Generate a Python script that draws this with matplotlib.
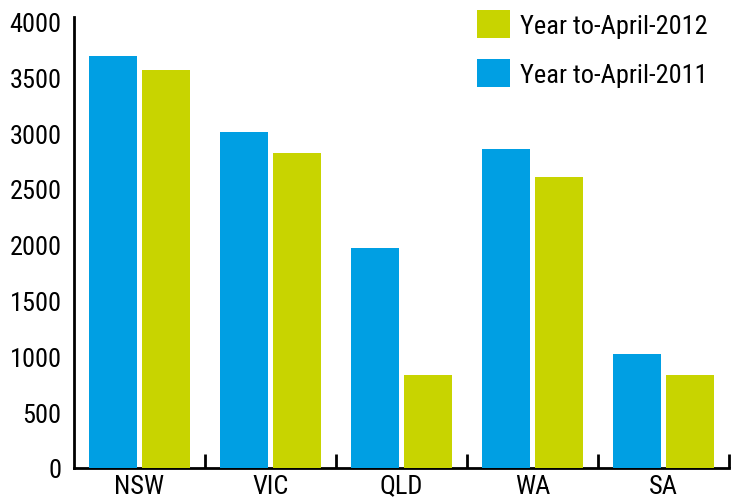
import matplotlib
matplotlib.use("Agg")
import matplotlib.pyplot as plt
import numpy as np

categories = ["NSW", "VIC", "QLD", "WA", "SA"]
values_2011 = [3690, 3010, 1970, 2855, 1025]
values_2012 = [3565, 2825, 835, 2605, 835]
label_2011 = "Year to-April-2011"
label_2012 = "Year to-April-2012"
yticks = [0, 500, 1000, 1500, 2000, 2500, 3000, 3500, 4000]

plt.rcParams["font.family"] = ["Roboto Condensed", "Liberation Sans", "DejaVu Sans"]

blue = "#009FE3"
green = "#C8D400"

fig = plt.figure(figsize=(7.39, 5.02), dpi=100)
ax = fig.add_axes([74/739, 1-469/502, (729-74)/739, (469-18)/502])

x = np.arange(len(categories))
w = 0.366
b1 = ax.bar(x - 0.2, values_2011, w, color=blue, label=label_2011, zorder=3)
b2 = ax.bar(x + 0.2, values_2012, w, color=green, label=label_2012, zorder=3)

ax.set_xlim(-0.5, len(categories) - 0.5)
ax.set_ylim(0, 4040)
ax.set_yticks(yticks)
ax.set_yticklabels([str(v) for v in yticks], fontsize=19)
ax.tick_params(axis="y", length=0, pad=9)

ax.set_xticks(x)
ax.set_xticklabels(categories, fontsize=19)
ax.tick_params(axis="x", which="major", length=0, pad=4)
ax.set_xticks(np.arange(len(categories)) + 0.5, minor=True)
ax.tick_params(axis="x", which="minor", direction="in", length=10, width=2, color="black")

for s in ["top", "right"]:
    ax.spines[s].set_visible(False)
for s in ["left", "bottom"]:
    ax.spines[s].set_linewidth(2)
    ax.spines[s].set_color("black")

fig.legend([b2, b1], [label_2012, label_2011], loc="upper left",
           bbox_to_anchor=(477/739, 1-11/502), frameon=False, fontsize=19,
           handlelength=1.25, handleheight=1.25, handletextpad=0.38,
           labelspacing=0.8, borderpad=0, borderaxespad=0)

fig.savefig("out.png", dpi=100)
